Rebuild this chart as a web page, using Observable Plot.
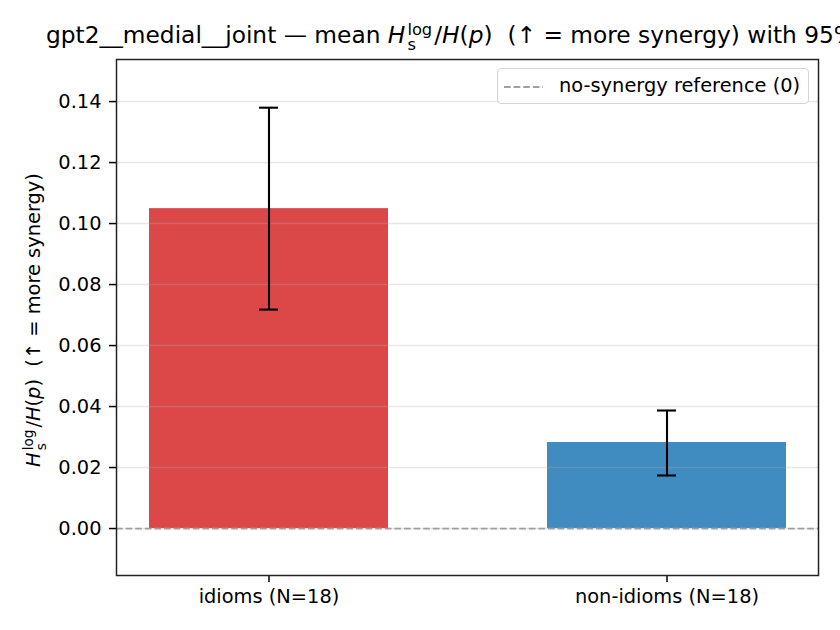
<!DOCTYPE html>
<html>
<head>
<meta charset="utf-8">
<script src="https://cdn.jsdelivr.net/npm/d3@7"></script>
<script src="https://cdn.jsdelivr.net/npm/@observablehq/plot@0.6"></script>
<style>
  html, body { margin: 0; padding: 0; background: #fff; }
  #wrap { position: relative; width: 840px; height: 630px; overflow: hidden; font-family: "DejaVu Sans", sans-serif; color: #000; }
  #title { position: absolute; left: 46px; top: 22px; font-size: 23.3px; white-space: nowrap; line-height: 1; }
  #ylab { position: absolute; left: 33px; top: 320px; font-size: 19.4px; white-space: nowrap; transform: translate(-50%, -50%) rotate(-90deg); line-height: 1; }
  .ss { display: inline-block; position: relative; font-size: 0.7em; line-height: 1; vertical-align: 0.5em; margin-left: 2px; margin-right: 2px; }
  .ss .sub { position: absolute; left: 0; top: 0.93em; }
  #legend { position: absolute; left: 497px; top: 68px; width: 312px; height: 36px; border: 1px solid #d4d4d4; border-radius: 4px; background: rgba(255,255,255,0.8); font-size: 19.4px; box-sizing: border-box; }
  #legend svg { position: absolute; left: 5px; top: 16px; }
  #legend .txt { position: absolute; left: 61px; top: 7px; white-space: nowrap; line-height: 1; }
  #chart { position: absolute; left: 0; top: 0; }
</style>
</head>
<body>
<div id="wrap">
  <div id="chart"></div>
  <div id="title">gpt2__medial__joint — mean <i>H</i><span class="ss">log<span class="sub">s</span></span>/<i>H</i>(<i>p</i>)&nbsp; (↑ = more synergy) with 95% CI</div>
  <div id="ylab"><i>H</i><span class="ss">log<span class="sub">s</span></span>/<i>H</i>(<i>p</i>)&nbsp; (↑ = more synergy)</div>
  <div id="legend"><svg width="42" height="4"><line x1="1" y1="2" x2="40" y2="2" stroke="#a0a0a0" stroke-width="1.8" stroke-dasharray="6.7,2.9"/></svg><div class="txt">no-synergy reference (0)</div></div>
</div>
<script>
const categories = ["idioms (N=18)", "non-idioms (N=18)"];
const means = [0.1049, 0.0282];
const ciLow = [0.0718, 0.0174];
const ciHigh = [0.1380, 0.0387];
const colors = ["#d62728", "#1f77b4"];
const yTicks = [0.00, 0.02, 0.04, 0.06, 0.08, 0.10, 0.12, 0.14];
const yDomain = [-0.0154, 0.1538];

const data = categories.map((c, i) => ({cat: c, mean: means[i], lo: ciLow[i], hi: ciHigh[i], color: colors[i]}));

const chart = Plot.plot({
  width: 840,
  height: 630,
  marginTop: 59,
  marginBottom: 55,
  marginLeft: 116,
  marginRight: 22,
  style: {fontFamily: "DejaVu Sans, sans-serif", fontSize: "19.4px", color: "#000", background: "transparent"},
  x: {domain: categories, paddingInner: 0.4, paddingOuter: 0.08, label: null},
  y: {domain: yDomain, label: null},
  marks: [
    Plot.barY(data, {x: "cat", y: "mean", fill: "color", fillOpacity: 0.85}),
    Plot.gridY(yTicks, {stroke: "#b0b0b0", strokeOpacity: 0.3, strokeWidth: 1.5}),
    Plot.ruleY([0], {stroke: "#a0a0a0", strokeWidth: 1.8, strokeDasharray: "6.7,2.9"}),
    Plot.ruleX(data, {x: "cat", y1: "lo", y2: "hi", stroke: "#000", strokeWidth: 2.1}),
    Plot.tickY(data, {x: "cat", y: "lo", stroke: "#000", strokeWidth: 2.1, insetLeft: 110, insetRight: 110}),
    Plot.tickY(data, {x: "cat", y: "hi", stroke: "#000", strokeWidth: 2.1, insetLeft: 110, insetRight: 110}),
    Plot.axisY(yTicks, {tickFormat: d3.format(".2f"), tickSize: 7, tickPadding: 8, label: null, stroke: "#000", strokeWidth: 1.5, fontSize: 19.4}),
    Plot.axisX({tickSize: 7, tickPadding: 7, label: null, stroke: "#000", strokeWidth: 1.5, fontSize: 19.4}),
    Plot.frame({stroke: "#222", strokeWidth: 1.5})
  ]
});
document.getElementById("chart").appendChild(chart);
</script>
</body>
</html>
